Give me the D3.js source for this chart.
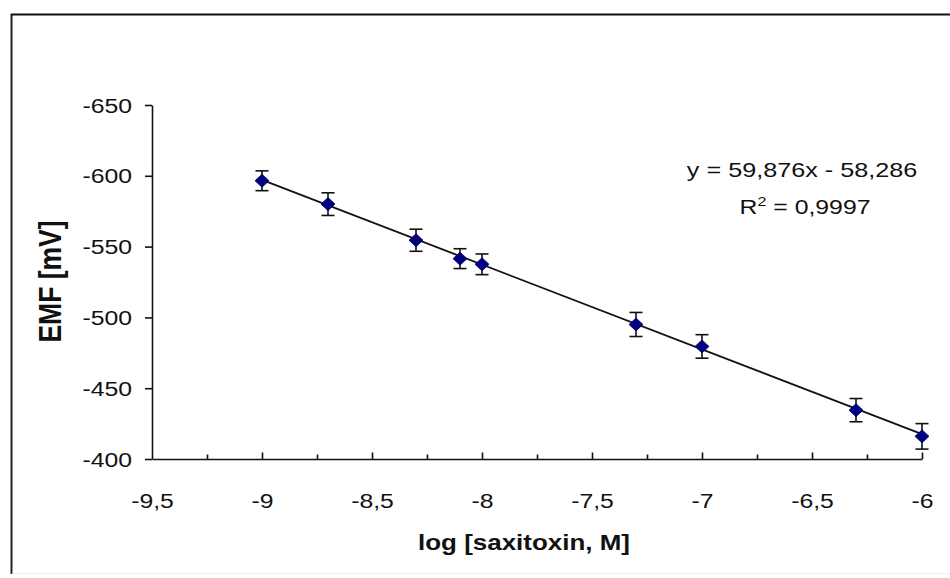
<!DOCTYPE html>
<html>
<head>
<meta charset="utf-8">
<script src="https://cdn.jsdelivr.net/npm/d3@7"></script>
<style>
  body { margin: 0; background: #fff; }
  svg text { font-family: "Liberation Sans", Arial, sans-serif; fill: #111; }
</style>
</head>
<body>
<svg id="chart"></svg>
<script>
// data
let logConc = [-9, -8.7, -8.3, -8.1, -8, -7.3, -7, -6.3, -6];
let emfValues = [-596.5, -580, -554.5, -541.5, -537.5, -495, -479.5, -434.5, -416];
let emfErrors = [7, 8, 7.8, 7, 7.3, 8.5, 8.3, 8.2, 9];
let xTicks = [-9.5, -9, -8.5, -8, -7.5, -7, -6.5, -6];
let xMinorTicks = [-9.25, -8.75, -8.25, -7.75, -7.25, -6.75, -6.25];
let yTicks = [-650, -600, -550, -500, -450, -400];
let fitSlope = 59.876;
let fitIntercept = -58.286;
let fitRange = [-9, -6];

let w = 950;
let h = 578;
let plotLeft = 152, plotRight = 922, plotTop = 105, plotBottom = 459;

let comma = d => String(d).replace('.', ',');

let svg = d3.select("#chart")
    .attr('width', w)
    .attr('height', h);

// outer frame
svg.append('line').attr('x1', 11.5).attr('x2', 11.5).attr('y1', 14).attr('y2', 574)
    .attr('stroke', '#222').attr('stroke-width', 2);
svg.append('line').attr('x1', 11).attr('x2', w).attr('y1', 14.5).attr('y2', 14.5)
    .attr('stroke', '#111').attr('stroke-width', 2);
svg.append('line').attr('x1', 12).attr('x2', w).attr('y1', 573.5).attr('y2', 573.5)
    .attr('stroke', '#eee').attr('stroke-width', 1);

let xScale = d3.scaleLinear().domain([-9.5, -6]).range([plotLeft, plotRight]);
let yScale = d3.scaleLinear().domain([-650, -400]).range([plotTop, plotBottom]);

// axes
let yAxis = d3.axisLeft(yScale).tickValues(yTicks).tickSize(7).tickSizeOuter(0).tickFormat(comma);
let yAxisGroup = svg.append('g')
    .attr('transform', `translate(${plotLeft},0)`)
    .call(yAxis);
yAxisGroup.select('.domain').attr('stroke', '#111').attr('stroke-width', 1.6);
yAxisGroup.selectAll('.tick line').attr('stroke', '#111').attr('stroke-width', 1.6);
yAxisGroup.selectAll('.tick text')
    .attr('x', 0).attr('dy', '0.34em')
    .attr('font-size', 21)
    .attr('font-family', '"Liberation Sans", Arial, sans-serif')
    .attr('fill', '#111')
    .attr('transform', 'translate(-20,0) scale(1.18,1)');

let xAxis = d3.axisBottom(xScale).tickValues(xTicks).tickSize(-6.5).tickSizeOuter(0).tickFormat(comma);
let xAxisGroup = svg.append('g')
    .attr('transform', `translate(0,${plotBottom})`)
    .call(xAxis);
xAxisGroup.select('.domain').attr('stroke', '#111').attr('stroke-width', 1.6);
xAxisGroup.selectAll('.tick line').attr('stroke', '#111').attr('stroke-width', 1.6);
// scale(1.18,1) around tick origin keeps label centred
xAxisGroup.selectAll('.tick text')
    .attr('y', 49).attr('dy', 0)
    .attr('font-size', 21)
    .attr('font-family', '"Liberation Sans", Arial, sans-serif')
    .attr('fill', '#111')
    .attr('transform', 'scale(1.18,1)');
xAxisGroup.selectAll('.tick').filter(d => d === -9.5).select('line').remove();

let xMinor = d3.axisBottom(xScale).tickValues(xMinorTicks).tickSize(-4.5).tickFormat('');
let xMinorGroup = svg.append('g')
    .attr('transform', `translate(0,${plotBottom})`)
    .call(xMinor);
xMinorGroup.select('.domain').remove();
xMinorGroup.selectAll('.tick line').attr('stroke', '#111').attr('stroke-width', 1.6);

// trend line from the fitted equation
let line = d3.line()
    .x(d => xScale(d))
    .y(d => yScale(fitSlope * d + fitIntercept));
svg.append('path')
    .datum(fitRange)
    .attr('d', line)
    .attr('fill', 'none')
    .attr('stroke', '#111')
    .attr('stroke-width', 1.8);

let points = logConc.map((x, i) => ({x: x, y: emfValues[i], e: emfErrors[i]}));

// error bars
let bars = svg.append('g').selectAll('g')
    .data(points)
    .join('g')
    .attr('stroke', '#111')
    .attr('stroke-width', 1.6);
bars.append('line')
    .attr('x1', d => xScale(d.x)).attr('x2', d => xScale(d.x))
    .attr('y1', d => yScale(d.y - d.e)).attr('y2', d => yScale(d.y + d.e));
bars.append('line')
    .attr('x1', d => xScale(d.x) - 6.5).attr('x2', d => xScale(d.x) + 6.5)
    .attr('y1', d => yScale(d.y - d.e)).attr('y2', d => yScale(d.y - d.e));
bars.append('line')
    .attr('x1', d => xScale(d.x) - 6.5).attr('x2', d => xScale(d.x) + 6.5)
    .attr('y1', d => yScale(d.y + d.e)).attr('y2', d => yScale(d.y + d.e));

// diamond markers
svg.append('g').selectAll('path')
    .data(points)
    .join('path')
    .attr('d', 'M0,-6.5L7,0L0,6.5L-7,0Z')
    .attr('transform', d => `translate(${xScale(d.x)},${yScale(d.y)})`)
    .attr('fill', '#000080')
    .attr('stroke', '#00005a')
    .attr('stroke-width', 0.8);

// equation labels
svg.append('text')
    .attr('transform', 'translate(802,177) scale(1.26,1)')
    .attr('text-anchor', 'middle')
    .attr('font-size', 20)
    .text('y = ' + comma(fitSlope) + 'x - ' + comma(-fitIntercept));

let r2 = svg.append('text')
    .attr('transform', 'translate(805,214) scale(1.24,1)')
    .attr('text-anchor', 'middle')
    .attr('font-size', 20);
r2.append('tspan').text('R');
r2.append('tspan').attr('font-size', 13).attr('dy', -8).text('2');
r2.append('tspan').attr('dy', 8).text(' = 0,9997');

// axis titles
svg.append('text')
    .attr('transform', 'translate(524,550) scale(1.18,1)')
    .attr('text-anchor', 'middle')
    .attr('font-size', 22)
    .attr('font-weight', 'bold')
    .text('log [saxitoxin, M]');

svg.append('text')
    .attr('transform', 'translate(61,281.5) rotate(-90) scale(1.02,1.22)')
    .attr('text-anchor', 'middle')
    .attr('font-size', 26)
    .attr('font-weight', 'bold')
    .text('EMF [mV]');
</script>
</body>
</html>
